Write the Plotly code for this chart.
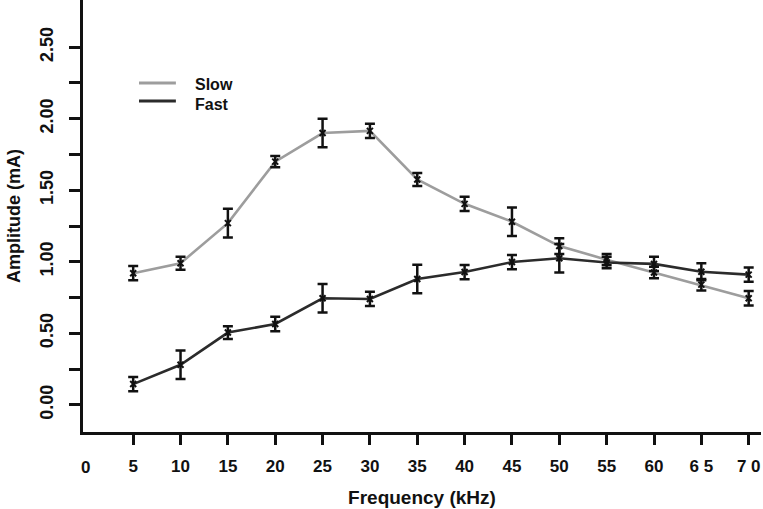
import plotly.graph_objects as go

freq = [5, 10, 15, 20, 25, 30, 35, 40, 45, 50, 55, 60, 65, 70]
slow = [0.92, 0.99, 1.27, 1.70, 1.90, 1.915, 1.575, 1.405, 1.28, 1.11, 1.015, 0.925, 0.84, 0.745]
slow_err = [0.05, 0.045, 0.10, 0.04, 0.10, 0.05, 0.045, 0.05, 0.10, 0.055, 0.04, 0.04, 0.04, 0.05]
fast = [0.145, 0.28, 0.505, 0.565, 0.745, 0.74, 0.88, 0.928, 0.998, 1.025, 0.995, 0.985, 0.93, 0.91]
fast_err = [0.05, 0.10, 0.045, 0.05, 0.10, 0.05, 0.10, 0.05, 0.05, 0.10, 0.04, 0.05, 0.06, 0.05]
series_names = ["Slow", "Fast"]

x_tickvals = [5, 10, 15, 20, 25, 30, 35, 40, 45, 50, 55, 60, 65, 70]
x_ticktext = ["5", "10", "15", "20", "25", "30", "35", "40", "45", "50", "55", "60", "6 5", "7 0"]
y_tickvals = [0, 0.25, 0.5, 0.75, 1.0, 1.25, 1.5, 1.75, 2.0, 2.25, 2.5]
y_ticktext = ["0.00", "", "0.50", "", "1.00", "", "1.50", "", "2.00", "", "2.50"]

FONT = "Liberation Sans, Arial, sans-serif"
INK = "#111111"
SLOW_C = "#9d9d9d"
FAST_C = "#2b2b2b"

fig = go.Figure()
for name, y, c in [(series_names[0], slow, SLOW_C), (series_names[1], fast, FAST_C)]:
    fig.add_trace(go.Scatter(x=freq, y=y, mode="lines", name=name, showlegend=False,
                             line=dict(color=c, width=2.6), cliponaxis=False))
for y, e in [(slow, slow_err), (fast, fast_err)]:
    fig.add_trace(go.Scatter(x=freq, y=y, mode="markers", showlegend=False, cliponaxis=False,
                             marker=dict(symbol="x-thin", size=6, color=INK,
                                         line=dict(width=2, color=INK)),
                             error_y=dict(type="data", array=e, visible=True,
                                          color=INK, thickness=2.5, width=5)))

# "0" tick label at the origin (no tick mark in the reference)
fig.add_annotation(x=0, y=0, xref="x", yref="paper", text="<b>0</b>", showarrow=False,
                   yanchor="top", yshift=-24, font=dict(family=FONT, size=17, color=INK))

# Legend drawn as line samples + text
for name, c, ly, ty in [(series_names[0], SLOW_C, 0.808, 0.805), (series_names[1], FAST_C, 0.766, 0.759)]:
    fig.add_shape(type="line", xref="paper", yref="paper", x0=0.0826, x1=0.137, y0=ly, y1=ly,
                  line=dict(color=c, width=3))
    fig.add_annotation(x=0.162, y=ty, xref="paper", yref="paper", text="<b>" + name + "</b>",
                       showarrow=False, xanchor="left", yanchor="middle",
                       font=dict(family=FONT, size=16, color=INK))

fig.update_layout(
    width=763, height=509,
    margin=dict(l=83, r=2, t=0, b=77),
    plot_bgcolor="white", paper_bgcolor="white",
    font=dict(family=FONT, size=18, color=INK),
    showlegend=False,
    xaxis=dict(range=[-0.3, 71.3], tickvals=x_tickvals, ticktext=x_ticktext,
               automargin=False,
               showline=True, linecolor=INK, linewidth=3,
               ticks="outside", ticklen=10, tickwidth=2.5, tickcolor=INK,
               ticklabelstandoff=7, showgrid=False, zeroline=False,
               tickfont=dict(family=FONT, size=17, color=INK, weight="bold"),
               title=dict(text="<b>Frequency (kHz)</b>", standoff=16,
                          font=dict(family=FONT, size=19, color=INK))),
    yaxis=dict(range=[-0.19, 2.83], tickvals=y_tickvals, ticktext=y_ticktext,
               automargin=False,
               showline=True, linecolor=INK, linewidth=3,
               ticks="outside", ticklen=11, tickwidth=2.5, tickcolor=INK,
               tickangle=-90, ticklabelstandoff=9, showgrid=False, zeroline=False,
               tickfont=dict(family=FONT, size=18, color=INK, weight="bold"),
               title=dict(text="<b>Amplitude (mA)</b>", standoff=12,
                          font=dict(family=FONT, size=18, color=INK))),
)

fig.write_html("out.html", config={"displayModeBar": False},
               post_script="document.body.style.margin='0px';")
